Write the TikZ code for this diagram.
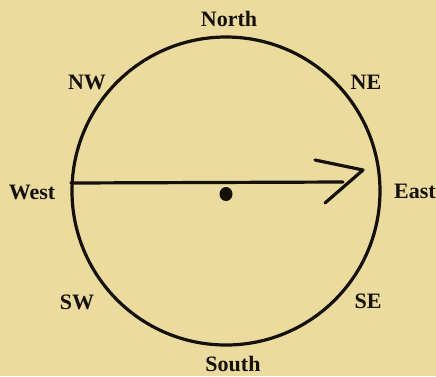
\documentclass[tikz,border=0pt]{standalone}
\usepackage{fontspec}
\setmainfont{Liberation Serif}
\definecolor{paper}{RGB}{236,219,158}
\definecolor{ink}{RGB}{20,16,10}
\begin{document}
\begin{tikzpicture}[x=1pt,y=-1pt,
  lbl/.style={font=\bfseries\fontsize{22}{22}\selectfont, text=ink, inner sep=0pt},
  stroke/.style={draw=ink, line width=3.2pt, line cap=round, line join=round}]
\fill[paper] (0,0) rectangle (436,376);
\useasboundingbox (0,0) rectangle (436,376);
\node[circle, stroke, minimum size=308pt, inner sep=0pt] (dial) at (226,191) {};
\fill[ink] (226,194) ellipse (6.5pt and 7pt);
\node[circle, inner sep=0pt, minimum size=1pt] (pivot) at (226,194) {};
\coordinate (w) at (71,183);
\coordinate (e) at (343,182);
\coordinate (tip) at (363,170);
\coordinate (up) at (315,160);
\coordinate (lo) at (325,203);
\draw[stroke] (w) -- (e);
\draw[stroke] (up) -- (tip) -- (lo);
\node[lbl] (n) at (229,19) {North};
\node[lbl] (s) at (233,364) {South};
\node[lbl] (wl) at (32,192) {West};
\node[lbl, anchor=west] (el) at (394,191) {East};
\node[lbl] (nw) at (87,82) {NW};
\node[lbl] (ne) at (366,82) {NE};
\node[lbl] (sw) at (77,302) {SW};
\node[lbl] (se) at (368,301) {SE};
\end{tikzpicture}
\end{document}
